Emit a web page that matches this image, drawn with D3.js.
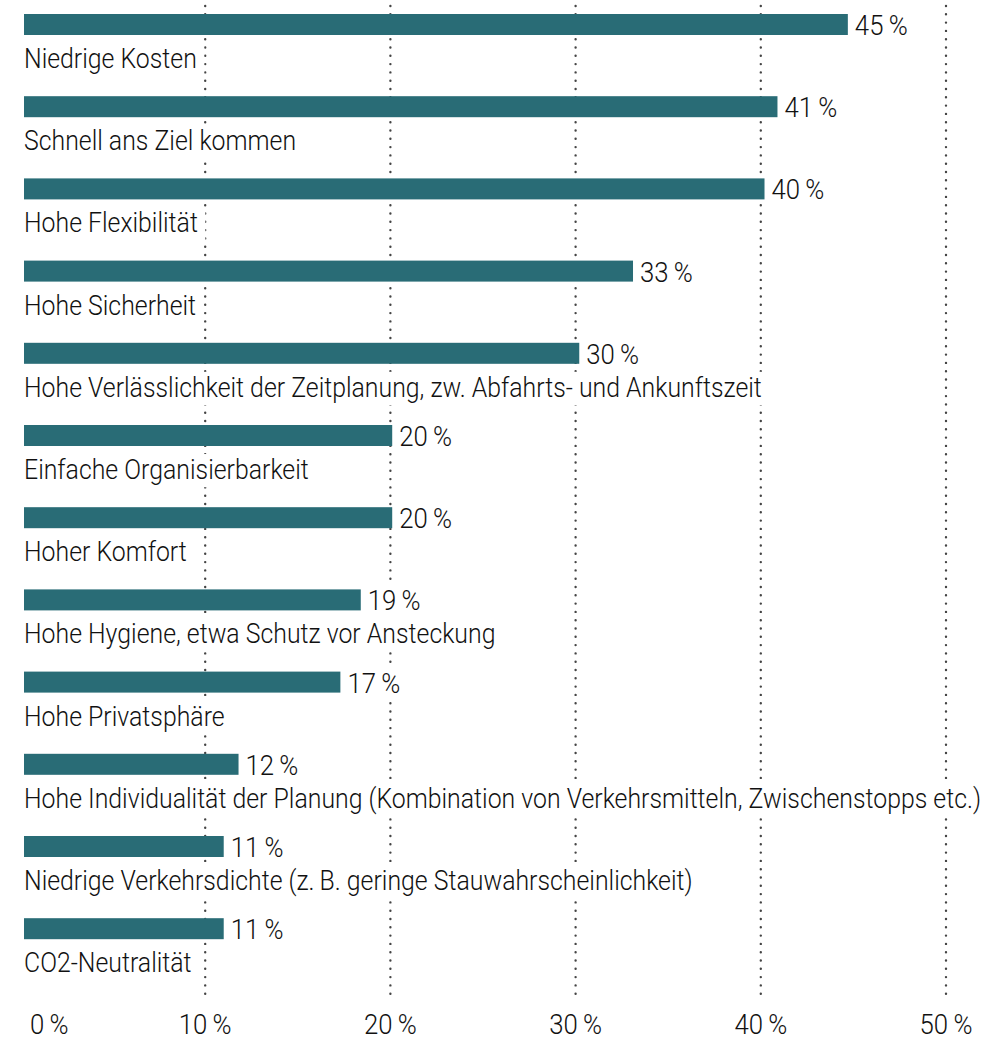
<!DOCTYPE html>
<html>
<head>
<meta charset="utf-8">
<script src="https://cdn.jsdelivr.net/npm/d3@7"></script>
<style>
  body { margin: 0; background: #fff; }
  text { font-family: "Roboto", "Liberation Sans", sans-serif; font-weight: 300; fill: #111; }
</style>
</head>
<body>
<div id="chart"></div>
<script>
const width = 995;
const height = 1041;

// Reasons, top to bottom
const categories = [
  "Niedrige Kosten",
  "Schnell ans Ziel kommen",
  "Hohe Flexibilität",
  "Hohe Sicherheit",
  "Hohe Verlässlichkeit der Zeitplanung, zw. Abfahrts- und Ankunftszeit",
  "Einfache Organisierbarkeit",
  "Hoher Komfort",
  "Hohe Hygiene, etwa Schutz vor Ansteckung",
  "Hohe Privatsphäre",
  "Hohe Individualität der Planung (Kombination von Verkehrsmitteln, Zwischenstopps etc.)",
  "Niedrige Verkehrsdichte (z.\u2009B. geringe Stauwahrscheinlichkeit)",
  "CO2-Neutralität"
];

// bar lengths (percent)
const values = [44.7, 40.9, 40.2, 33.1, 30.2, 20.1, 20.1, 18.4, 17.3, 11.8, 11.0, 11.0];

// printed value labels
const valueLabels = ["45\u2009%", "41\u2009%", "40\u2009%", "33\u2009%", "30\u2009%", "20\u2009%", "20\u2009%", "19\u2009%", "17\u2009%", "12\u2009%", "11\u2009%", "11\u2009%"];

const tickValues = [0, 10, 20, 30, 40, 50];

const data = categories.map(function(c, i) {
  return { name: c, value: values[i], label: valueLabels[i] };
});

const barColor = "#296c76";
const barHeight = 21;
const barOffset = 4;
const squeeze = 0.92; // horizontal squeeze to imitate a condensed face

const svg = d3.select("#chart")
  .append("svg")
  .attr("width", width)
  .attr("height", height);

const xScale = d3.scaleLinear()
  .domain([0, 50])
  .range([20, 946]);

const yScale = d3.scaleBand()
  .domain(categories)
  .range([14, 14 + 12 * 82.2]);

// dotted gridlines
svg.selectAll(".grid")
  .data(tickValues.filter(function(d) { return d > 0; }))
  .enter()
  .append("line")
  .attr("class", "grid")
  .attr("x1", function(d) { return xScale(d); })
  .attr("x2", function(d) { return xScale(d); })
  .attr("y1", 6)
  .attr("y2", 1001)
  .attr("stroke", "#444")
  .attr("stroke-width", 2.4)
  .attr("stroke-linecap", "round")
  .attr("stroke-dasharray", "0,8.3");

const rows = svg.selectAll(".row")
  .data(data)
  .enter()
  .append("g")
  .attr("class", "row")
  .attr("transform", function(d) {
    return "translate(0," + yScale(d.name) + ")";
  });

rows.append("rect")
  .attr("x", xScale(0) + barOffset)
  .attr("y", 0)
  .attr("width", function(d) { return xScale(d.value) - xScale(0) - barOffset; })
  .attr("height", barHeight)
  .attr("fill", barColor);

// value label, boxed in white
const valueG = rows.append("g")
  .attr("transform", function(d) {
    return "translate(" + (xScale(d.value) + 7) + "," + barHeight + ") scale(" + squeeze + ",1)";
  });

valueG.append("text")
  .attr("font-size", "28px")
  .text(function(d) { return d.label; });

valueG.each(function() {
  const b = d3.select(this).select("text").node().getBBox();
  d3.select(this).insert("rect", "text")
    .attr("x", b.x - 7)
    .attr("y", b.y - 2)
    .attr("width", b.width + 16)
    .attr("height", b.height + 4)
    .attr("fill", "#fff");
});

// category label, boxed in white
const nameG = rows.append("g")
  .attr("transform", "translate(" + (xScale(0) + barOffset) + ",54) scale(" + squeeze + ",1)");

nameG.append("text")
  .attr("font-size", "27px")
  .text(function(d) { return d.name; });

nameG.each(function() {
  const b = d3.select(this).select("text").node().getBBox();
  d3.select(this).insert("rect", "text")
    .attr("x", b.x - 2)
    .attr("y", b.y)
    .attr("width", b.width + 10)
    .attr("height", b.height + 2)
    .attr("fill", "#fff");
});

// x tick labels
svg.selectAll(".tick-label")
  .data(tickValues)
  .enter()
  .append("g")
  .attr("class", "tick-label")
  .attr("transform", function(d) {
    const x = d === 0 ? xScale(d) + 10 : xScale(d);
    return "translate(" + x + ",1034) scale(" + squeeze + ",1)";
  })
  .append("text")
  .attr("text-anchor", function(d) { return d === 0 ? "start" : "middle"; })
  .attr("font-size", "28px")
  .text(function(d) { return d + "\u2009%"; });
</script>
</body>
</html>
